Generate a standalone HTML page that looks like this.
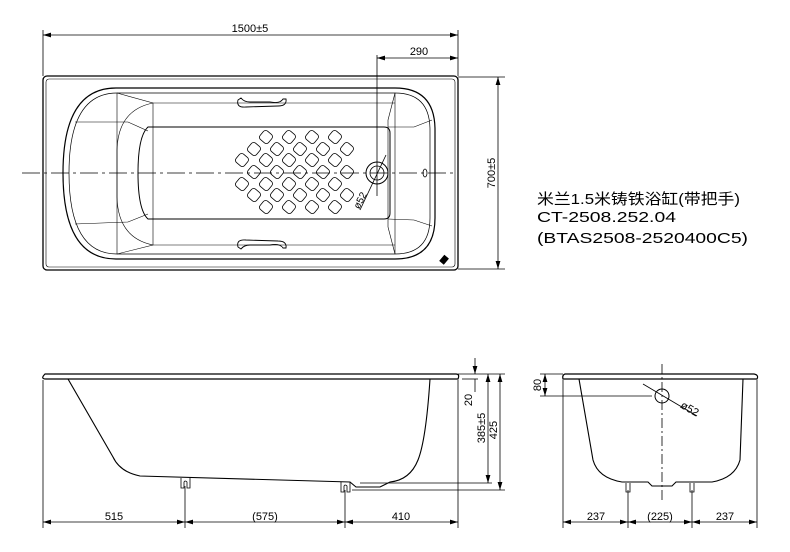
<!DOCTYPE html>
<html><head><meta charset="utf-8"><style>
html,body{margin:0;padding:0;background:#fff}
svg{display:block}
text{font-family:"Liberation Sans","Noto Sans CJK SC",sans-serif;fill:#000}
</style></head><body>
<svg width="790" height="552" viewBox="0 0 790 552" xmlns="http://www.w3.org/2000/svg">
<defs>
<marker id="a" viewBox="0 0 10 6" refX="10" refY="3" markerWidth="8" markerHeight="5" orient="auto-start-reverse" markerUnits="userSpaceOnUse"><path d="M0,0 L10,3 L0,6 Z" fill="#000"/></marker>
<rect id="sq" x="-5.5" y="-5.5" width="11" height="11" rx="3" transform="rotate(40)"/>
</defs>
<g fill="none" stroke="#000" stroke-width="1">
<!-- TOP VIEW -->
<line x1="43" y1="30" x2="43" y2="76" stroke-width="0.8"/>
<line x1="458" y1="30" x2="458" y2="76" stroke-width="0.8"/>
<line x1="43" y1="35" x2="458" y2="35" marker-start="url(#a)" marker-end="url(#a)" stroke-width="0.8"/>
<line x1="377" y1="55" x2="377" y2="196" stroke-width="0.8"/>
<line x1="377" y1="58" x2="458" y2="58" marker-start="url(#a)" marker-end="url(#a)" stroke-width="0.8"/>
<line x1="458" y1="77" x2="505" y2="77" stroke-width="0.8"/>
<line x1="458" y1="269" x2="505" y2="269" stroke-width="0.8"/>
<line x1="498" y1="77" x2="498" y2="269" marker-start="url(#a)" marker-end="url(#a)" stroke-width="0.8"/>
<rect x="43" y="76" width="415" height="194" rx="4" stroke-width="1.3"/>
<rect x="46" y="79" width="409" height="188" rx="3" stroke-width="0.6"/>
<path d="M116,88 L395,88 Q435,88 435,130 L435,218 Q435,259 395,259 L116,259 Q63,259 63,173 Q63,88 116,88 Z" stroke-width="1.2"/>
<path d="M117,93 L395,93 Q430,93 430,130 L430,218 Q430,254 395,254 L117,254 Q69,254 69,173 Q69,93 117,93 Z" stroke-width="0.7"/>
<path d="M117,93 L117,254 M395,93 L395,254" stroke-width="0.6"/>
<path d="M117,93 L153,103 L153,245 L117,254 M395,93 L388,120 L388,227 L395,254" stroke-width="0.6"/>
<path d="M153,103 L395,103 M153,245 L395,245" stroke-width="0.6"/>
<path d="M153,103 Q118,110 117,150 L117,197 Q118,238 153,245" stroke-width="0.6"/>
<path d="M75,122 L128,122 L148,131 M75,224 L128,222 L148,214 M388,127 L414,127 L432,120 M388,219 L414,220 L432,226" stroke-width="0.6"/>
<path d="M148,127 L384,127 Q390,127 390,133 L390,213 Q390,219 384,219 L148,219 Q138,210 138,173 Q138,136 148,127 Z" stroke-width="1"/>
<path d="M238,100 Q236,108 246,107 L278,106 Q287,106 286,99 L283,99 Q280,104 270,102 L250,102 Q244,102 241,98 Z" stroke-width="0.9"/>
<path d="M238,247 Q236,239 246,240 L278,241 Q287,241 286,248 L283,248 Q280,243 270,245 L250,245 Q244,245 241,249 Z" stroke-width="0.9"/>
<line x1="22" y1="173" x2="455" y2="173" stroke-dasharray="18,4,3,4" stroke-width="0.8"/>
<circle cx="377" cy="173" r="11" stroke-width="1"/>
<circle cx="377" cy="173" r="7" stroke-width="0.8"/>
<line x1="386" y1="155" x2="360" y2="210" stroke-width="0.8"/>
<ellipse cx="425" cy="173" rx="2" ry="4" stroke-width="0.8"/>
<g stroke-width="0.8">
<use href="#sq" x="266" y="137"/><use href="#sq" x="289" y="137"/><use href="#sq" x="312" y="137"/><use href="#sq" x="335" y="137"/>
<use href="#sq" x="254" y="149"/><use href="#sq" x="277" y="149"/><use href="#sq" x="300" y="149"/><use href="#sq" x="323" y="149"/><use href="#sq" x="347" y="149"/>
<use href="#sq" x="242" y="160"/><use href="#sq" x="266" y="160"/><use href="#sq" x="289" y="160"/><use href="#sq" x="312" y="160"/><use href="#sq" x="335" y="160"/>
<use href="#sq" x="254" y="172"/><use href="#sq" x="277" y="172"/><use href="#sq" x="300" y="172"/><use href="#sq" x="323" y="172"/><use href="#sq" x="347" y="172"/>
<use href="#sq" x="242" y="184"/><use href="#sq" x="266" y="184"/><use href="#sq" x="289" y="184"/><use href="#sq" x="312" y="184"/><use href="#sq" x="335" y="184"/>
<use href="#sq" x="254" y="195"/><use href="#sq" x="277" y="195"/><use href="#sq" x="300" y="195"/><use href="#sq" x="323" y="195"/><use href="#sq" x="347" y="195"/>
<use href="#sq" x="266" y="207"/><use href="#sq" x="289" y="207"/><use href="#sq" x="312" y="207"/><use href="#sq" x="335" y="207"/>
</g>
<rect x="442" y="256" width="5" height="7" transform="rotate(40 444 259)" fill="#000"/>

<!-- SIDE VIEW -->
<path d="M45,374 L456,374 Q460,374 458,379 L46,379 Q40,379 45,374 Z" stroke-width="1.2"/>
<path d="M68,379 L113,457 Q120,472 140,476 L350,482 L356,487 L380,487 L390,482 Q410,480 418,460 Q426,440 430,379" stroke-width="1.1"/>
<path d="M181,478 L181,488 L184,488 L184,482 Q185,480 187,482 L187,488 L190,488 L190,478" stroke-width="0.8"/>
<path d="M341,482 L341,492 L344,492 L344,486 Q345,484 347,486 L347,492 L350,492 L350,482" stroke-width="0.8"/>
<line x1="43" y1="380" x2="43" y2="528" stroke-width="0.8"/>
<line x1="458" y1="380" x2="458" y2="528" stroke-width="0.8"/>
<line x1="185" y1="486" x2="185" y2="528" stroke-width="0.8"/>
<line x1="345" y1="490" x2="345" y2="528" stroke-width="0.8"/>
<line x1="43" y1="522" x2="185" y2="522" marker-start="url(#a)" marker-end="url(#a)" stroke-width="0.8"/>
<line x1="185" y1="522" x2="345" y2="522" marker-start="url(#a)" marker-end="url(#a)" stroke-width="0.8"/>
<line x1="345" y1="522" x2="458" y2="522" marker-start="url(#a)" marker-end="url(#a)" stroke-width="0.8"/>
<line x1="458" y1="374" x2="505" y2="374" stroke-width="0.8"/>
<line x1="462" y1="379" x2="478" y2="379" stroke-width="0.8"/>
<line x1="360" y1="483" x2="492" y2="483" stroke-width="0.8"/>
<line x1="352" y1="490" x2="505" y2="490" stroke-width="0.8"/>
<line x1="475" y1="358" x2="475" y2="374" marker-end="url(#a)" stroke-width="0.8"/>
<line x1="475" y1="379" x2="475" y2="392" stroke-width="0.8"/>
<line x1="488" y1="374" x2="488" y2="483" marker-start="url(#a)" marker-end="url(#a)" stroke-width="0.8"/>
<line x1="500" y1="374" x2="500" y2="490" marker-start="url(#a)" marker-end="url(#a)" stroke-width="0.8"/>

<!-- END VIEW -->
<path d="M565,374 L754,374 Q759,375 757,379 L563,379 Q562,375 565,374 Z" stroke-width="1.2"/>
<path d="M579,379 L593,460 Q598,478 622,482 L648,482 L652,486 L672,486 L676,482 L712,482 Q735,478 740,460 L743,379" stroke-width="1.1"/>
<path d="M626,483 L626,492 L630,492 L630,483 M690,483 L690,492 L694,492 L694,483" stroke-width="0.8"/>
<line x1="662" y1="364" x2="662" y2="500" stroke-dasharray="10,3,2,3" stroke-width="0.8"/>
<circle cx="662" cy="396" r="7" stroke-width="1"/>
<line x1="643" y1="384" x2="697" y2="416" stroke-width="0.8"/>
<line x1="540" y1="374" x2="563" y2="374" stroke-width="0.8"/>
<line x1="540" y1="396" x2="652" y2="396" stroke-width="0.8"/>
<line x1="545" y1="374" x2="545" y2="396" marker-start="url(#a)" marker-end="url(#a)" stroke-width="0.8"/>
<line x1="563" y1="380" x2="563" y2="528" stroke-width="0.8"/>
<line x1="757" y1="380" x2="757" y2="528" stroke-width="0.8"/>
<line x1="628" y1="490" x2="628" y2="528" stroke-width="0.8"/>
<line x1="692" y1="490" x2="692" y2="528" stroke-width="0.8"/>
<line x1="563" y1="522" x2="628" y2="522" marker-start="url(#a)" marker-end="url(#a)" stroke-width="0.8"/>
<line x1="628" y1="522" x2="692" y2="522" marker-start="url(#a)" marker-end="url(#a)" stroke-width="0.8"/>
<line x1="692" y1="522" x2="757" y2="522" marker-start="url(#a)" marker-end="url(#a)" stroke-width="0.8"/>
</g>

<g font-size="11">
<text x="250" y="32" text-anchor="middle">1500±5</text>
<text x="419" y="55" text-anchor="middle">290</text>
<text x="495" y="173" text-anchor="middle" transform="rotate(-90 495 173)">700±5</text>
<text x="363" y="202" text-anchor="middle" transform="rotate(-62 363 202)" font-size="10">ø52</text>
<text x="114" y="520" text-anchor="middle">515</text>
<text x="265" y="520" text-anchor="middle">(575)</text>
<text x="401" y="520" text-anchor="middle">410</text>
<text x="472" y="400" text-anchor="middle" transform="rotate(-90 472 400)">20</text>
<text x="485" y="428" text-anchor="middle" transform="rotate(-90 485 428)">385±5</text>
<text x="497" y="430" text-anchor="middle" transform="rotate(-90 497 430)">425</text>
<text x="541" y="385" text-anchor="middle" transform="rotate(-90 541 385)">80</text>
<text x="688" y="412" text-anchor="middle" transform="rotate(30 688 412)">ø52</text>
<text x="596" y="520" text-anchor="middle">237</text>
<text x="660" y="520" text-anchor="middle">(225)</text>
<text x="725" y="520" text-anchor="middle">237</text>
</g>
<g font-size="15">
<text x="537" y="204" textLength="203" lengthAdjust="spacingAndGlyphs">米兰1.5米铸铁浴缸(带把手)</text>
<text x="537" y="222" textLength="139" lengthAdjust="spacingAndGlyphs">CT-2508.252.04</text>
<text x="537" y="243" textLength="211" lengthAdjust="spacingAndGlyphs">(BTAS2508-2520400C5)</text>
</g>
</svg>
</body></html>
